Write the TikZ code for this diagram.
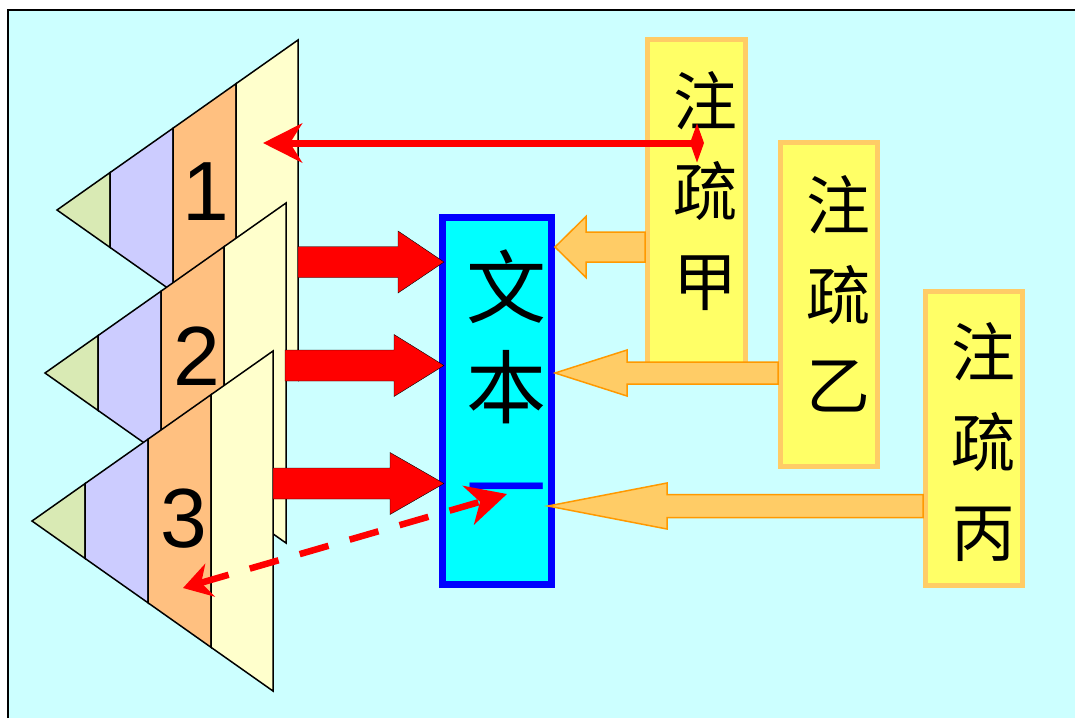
\documentclass[tikz,border=0pt]{standalone}
\usepackage{fontspec}
\setmainfont{Liberation Sans}
\newfontfamily\cjk{Noto Sans CJK SC}
\usetikzlibrary{arrows.meta,calc}
\definecolor{bgc}{HTML}{CCFFFF}
\definecolor{txtfill}{HTML}{00FFFF}
\definecolor{txtline}{HTML}{0000FF}
\definecolor{fgreen}{HTML}{D9EAB4}
\definecolor{fpurple}{HTML}{CCCCFF}
\definecolor{forange}{HTML}{FFC080}
\definecolor{fyellow}{HTML}{FFFFCC}
\definecolor{boxfill}{HTML}{FFFF66}
\definecolor{boxline}{HTML}{FFCC66}
\definecolor{oarrfill}{HTML}{FFCC66}
\definecolor{oarrline}{HTML}{FF9900}
\definecolor{myred}{HTML}{FF0000}
\newcommand\mystrut{\rule[-0.12em]{0pt}{1em}}
% #1 style, #2 tip, #3 tail, #4 head length (signed), #5 head half width, #6 body half width
\newcommand\myblockarrow[6]{%
  \filldraw[#1] (#2) -- ($(#2)+(#4,-#5)$) -- ($(#2)+(#4,-#6)$) -- ($(#3)+(0,-#6)$)
    -- ($(#3)+(0,#6)$) -- ($(#2)+(#4,#6)$) -- ($(#2)+(#4,#5)$) -- cycle;}
\begin{document}
\begin{tikzpicture}[x=1pt,y=-1pt,
  fanline/.style={draw=black, line width=1.5pt, line join=miter},
  numlbl/.style={font=\fontsize{84}{84}\selectfont, inner sep=0pt},
  cjkcol/.style={font=\cjk\fontsize{64}{90}\selectfont, align=center, inner sep=0pt},
  cjkbig/.style={font=\cjk\fontsize{80}{100}\selectfont, align=center, inner sep=0pt},
  ybox/.style={draw=boxline, line width=5pt, fill=boxfill, inner sep=0pt},
  redblk/.style={fill=myred},
  oblk/.style={fill=oarrfill, draw=oarrline, line width=1.5pt, line join=miter},
  fanpic/.pic={
    \filldraw[fanline, fill=fgreen] (0,0) -- (53,-37.4) -- (53,37.4) -- cycle;
    \filldraw[fanline, fill=fpurple] (53,-37.4) -- (116,-81.8) -- (116,81.8) -- (53,37.4) -- cycle;
    \filldraw[fanline, fill=forange] (116,-81.8) -- (179,-126.3) -- (179,126.3) -- (116,81.8) -- cycle;
    \filldraw[fanline, fill=fyellow] (179,-126.3) -- (241,-170) -- (241,170) -- (179,126.3) -- cycle;
  }]
\useasboundingbox (0,0) rectangle (1075,718);
\fill[bgc] (8,10) rectangle (1075,718);
\draw[black, line width=1.5pt] (8,718) -- (8,10) -- (1075,10);

% fans
\pic (fanA) at (57,210) {fanpic};
\node[numlbl] (n1) at (206,192) {1};
\pic (fanB) at (45,373) {fanpic};
\node[numlbl] (n2) at (197,356) {2};
\pic (fanC) at (32,521) {fanpic};
\node[numlbl] (n3) at (184,519) {3};

% boxes
\node[draw=txtline, line width=7pt, fill=txtfill, minimum width=109pt, minimum height=367pt, inner sep=0pt] (txt) at (497,401) {};
\node[ybox, minimum width=98pt, minimum height=330pt] (ja) at (696.5,204.5) {};
\node[ybox, minimum width=97pt, minimum height=324pt] (jb) at (829,304.5) {};
\node[ybox, minimum width=97pt, minimum height=294pt] (jc) at (974,438.5) {};

% red block arrows (fans -> text)
\coordinate (sA) at (298,262);   \coordinate (rA) at (444,262);
\coordinate (sB) at (285,365.5); \coordinate (rB) at (444,365.5);
\coordinate (sC) at (273,483.5); \coordinate (rC) at (444,483.5);
\myblockarrow{redblk}{rA}{sA}{-46}{31}{15.5}
\myblockarrow{redblk}{rB}{sB}{-50}{31}{15.5}
\myblockarrow{redblk}{rC}{sC}{-54}{31}{15.5}

% orange block arrows (commentaries -> text)
\coordinate (tA) at (txt.east |- 0,247);   \coordinate (eA) at (ja.west |- 0,247);
\coordinate (tB) at (txt.east |- 0,373);   \coordinate (eB) at (jb.west |- 0,373);
\coordinate (tC) at (548,506);             \coordinate (eC) at (jc.west |- 0,506);
\myblockarrow{oblk}{tA}{eA}{31}{30.5}{15}
\myblockarrow{oblk}{tB}{eB}{72}{23}{11}
\myblockarrow{oblk}{tC}{eC}{119}{23}{11.5}

% texts
\node[cjkbig] (tw) at (506,387) {\mystrut 文\\\mystrut 本\\\mystrut\textcolor{txtline}{一}};
\node[cjkcol] (ta) at (705,191) {\mystrut 注\\\mystrut 疏\\\mystrut 甲};
\node[cjkcol] (tb) at (838,295) {\mystrut 注\\\mystrut 疏\\\mystrut 乙};
\node[cjkcol] (tc) at (983,442) {\mystrut 注\\\mystrut 疏\\\mystrut 丙};

% thin red arrow
\coordinate (dm) at (704,143);
\coordinate (tipL) at (263,143);
\draw[myred, line width=7pt, {Diamond[length=14pt,width=39pt]}-{Stealth[length=39pt,width=39pt,inset=12pt]}] (dm) -- (tipL);

% dashed double arrow
\coordinate (dL) at (183,588);
\coordinate (dR) at (507,494);
\draw[myred, line width=6.5pt, dash pattern=on 30pt off 22pt, {Stealth[length=28pt,width=34pt,inset=9pt]}-{Stealth[length=40pt,width=40pt,inset=12pt]}] (dL) -- (dR);
\end{tikzpicture}
\end{document}
